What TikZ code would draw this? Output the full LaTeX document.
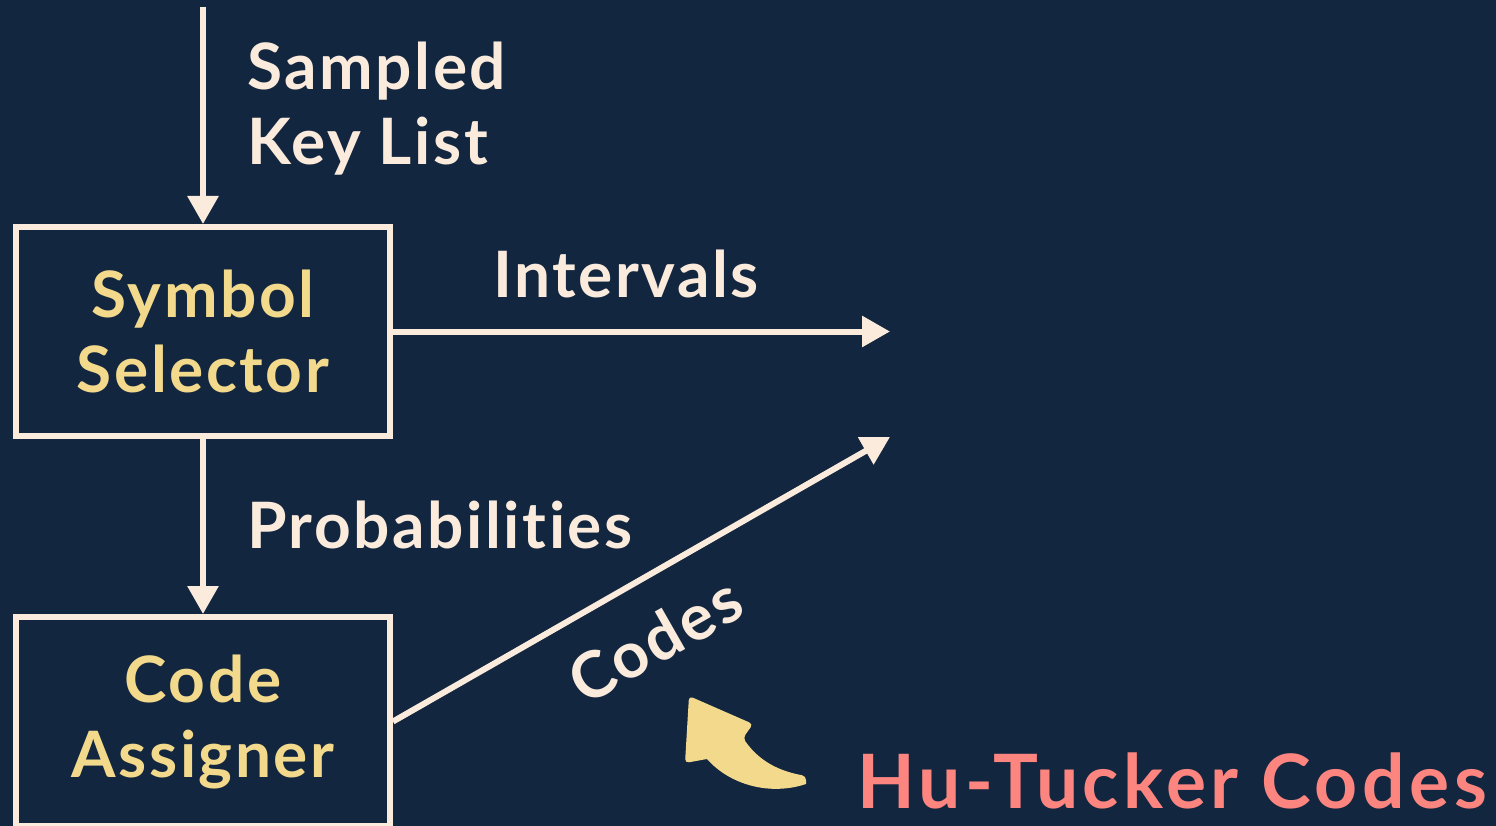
\documentclass[tikz,border=0pt]{standalone}
\usepackage{fontspec}
\setmainfont{Lato}[Ligatures={NoCommon}]
\newfontfamily\widelato{Lato}[Ligatures={NoCommon}, LetterSpace=4]
\newfontfamily\widerlato{Lato}[Ligatures={NoCommon}, LetterSpace=6]
\usetikzlibrary{arrows.meta}
\definecolor{bg}{HTML}{12263F}
\definecolor{cream}{HTML}{FBEBDC}
\definecolor{gold}{HTML}{F3D98C}
\definecolor{salmon}{HTML}{FC8580}
\tikzset{
  blockbox/.style={draw=cream, line width=6pt, fill=bg, minimum width=374pt,
    minimum height=209pt, inner sep=0pt, align=center, text=gold,
    font=\widelato\fontsize{64}{75}\selectfont\bfseries},
  flow/.style={draw=cream, line width=6pt,
    -{Triangle[length=28pt,width=30pt]}},
  caption/.style={inner sep=0pt, text=cream, align=left,
    font=\widelato\fontsize{64}{75}\selectfont\bfseries},
}
\begin{document}
\begin{tikzpicture}[x=1pt,y=-1pt]
  \fill[bg] (0,0) rectangle (1496,826);
  \useasboundingbox (0,0) rectangle (1496,826);

  % processing blocks
  \node[blockbox] (selector) at (203,331.5) {Symbol\\Selector};
  \node[blockbox] (assigner) at (203,721.5) {Code\\Assigner};

  % free ends of the connectors
  \coordinate (input) at (203,7);
  \coordinate (intervalsout) at (890,331.5);
  \coordinate (codesout) at (890,437);

  % connectors
  \draw[flow] (input) -- (selector.north);
  \draw[flow] (selector.south) -- (assigner.north);
  \draw[flow] (selector.east) -- (intervalsout);
  \draw[flow] (assigner.east) -- (codesout);

  % connector labels (base anchor sits on the last line)
  \node[caption, anchor=base west] (keylist) at (247,165) {Sampled\\Key List};
  \node[caption, anchor=base west] (intervals) at (493,298) {Intervals};
  \node[caption, anchor=base west] (probs) at (247,548) {Probabilities};
  \node[caption, rotate=29.7] (codes) at (655,640) {Codes};

  % callout arrow
  \fill[gold, rounded corners=4pt]
    (689,696) -- (753,724) -- (743,738)
    .. controls (762,765) and (785,772) .. (806,776)
    [sharp corners] -- (806,784)
    .. controls (770,796) and (730,785) .. (707,759)
    [rounded corners=4pt] -- (685,763) -- cycle;
  \node[inner sep=0pt, anchor=base west, text=salmon,
    font=\widerlato\fontsize{75}{80}\selectfont\bfseries] (hutucker) at (857,808)
    {Hu-Tucker Codes};
\end{tikzpicture}
\end{document}
